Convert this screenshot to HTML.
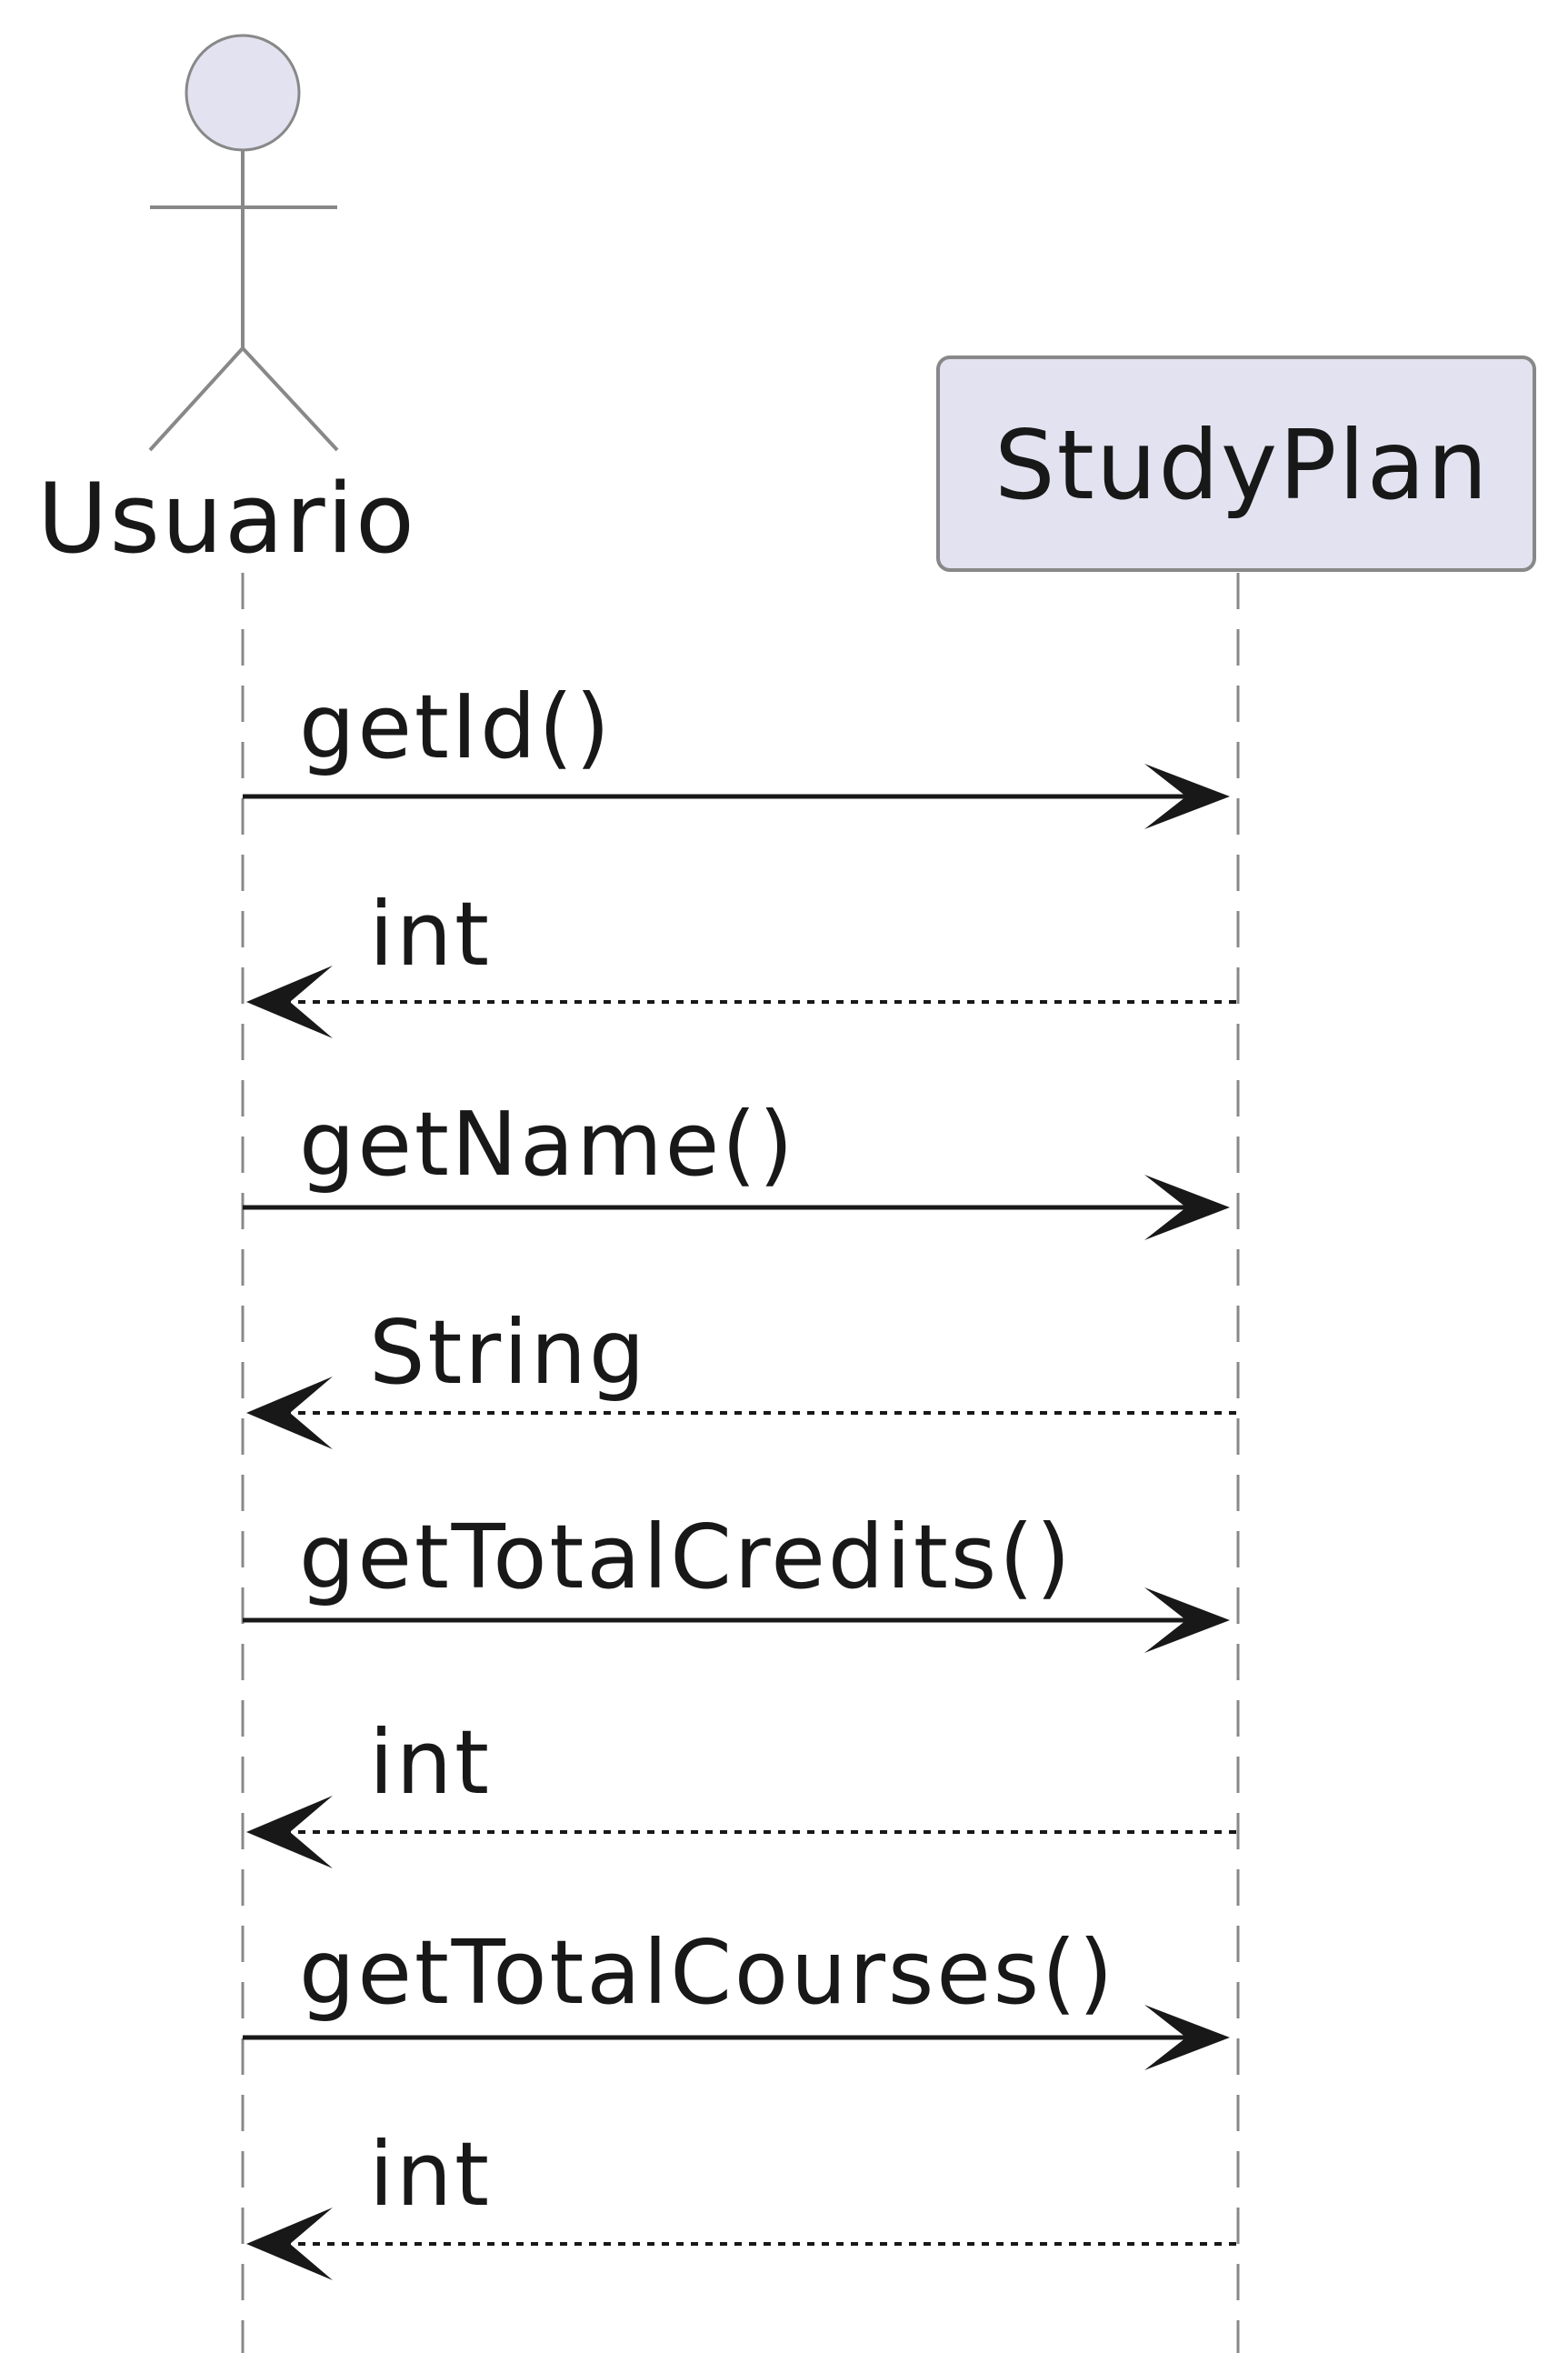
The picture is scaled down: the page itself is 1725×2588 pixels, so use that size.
<!DOCTYPE html>
<html><head><meta charset="utf-8"><style>
html,body{margin:0;padding:0;background:#fff;}
svg{display:block;}
text{font-family:"DejaVu Sans","Liberation Sans",sans-serif;fill:#181818;}
</style></head><body>
<svg width="1725" height="2588" viewBox="0 0 1725 2588" xmlns="http://www.w3.org/2000/svg">
<g stroke="#888" stroke-width="3" stroke-dasharray="40,22" fill="none">
<line x1="267" y1="630" x2="267" y2="2588"/>
<line x1="1362" y1="630" x2="1362" y2="2588"/>
</g>
<ellipse cx="267" cy="102" rx="62" ry="63" fill="#E2E2F0" stroke="#888" stroke-width="3"/>
<g stroke="#888" stroke-width="4" fill="none">
<line x1="267" y1="165" x2="267" y2="383"/>
<line x1="165" y1="228" x2="371" y2="228"/>
<line x1="267" y1="383" x2="165" y2="495"/>
<line x1="267" y1="383" x2="371" y2="495"/>
</g>
<text x="41" y="607" font-size="106" letter-spacing="2">Usuario</text>
<rect x="1032" y="393" width="656" height="234" rx="13" ry="13" fill="#E2E2F0" stroke="#888" stroke-width="4"/>
<text x="1094" y="548" font-size="105" letter-spacing="2">StudyPlan</text>

<g font-size="97" letter-spacing="2.8">
<text x="329" y="833">getId()</text>
<text x="406" y="1061">int</text>
<text x="329" y="1292">getName()</text>
<text x="406" y="1521">String</text>
<text x="329" y="1746">getTotalCredits()</text>
<text x="406" y="1972">int</text>
<text x="329" y="2203">getTotalCourses()</text>
<text x="406" y="2425">int</text>
</g>

<g stroke="#181818" stroke-width="5">
<line x1="267" y1="876" x2="1345" y2="876"/>
<line x1="267" y1="1328" x2="1345" y2="1328"/>
<line x1="267" y1="1782" x2="1345" y2="1782"/>
<line x1="267" y1="2241" x2="1345" y2="2241"/>
</g>
<g stroke="#181818" stroke-width="4" stroke-dasharray="8,8">
<line x1="280" y1="1102" x2="1362" y2="1102"/>
<line x1="280" y1="1554" x2="1362" y2="1554"/>
<line x1="280" y1="2015" x2="1362" y2="2015"/>
<line x1="280" y1="2468" x2="1362" y2="2468"/>
</g>
<g fill="#181818">
<polygon points="1353,876 1259,840 1305,876 1259,912"/>
<polygon points="1353,1328 1259,1292 1305,1328 1259,1364"/>
<polygon points="1353,1782 1259,1746 1305,1782 1259,1818"/>
<polygon points="1353,2241 1259,2205 1305,2241 1259,2277"/>
<polygon points="271,1102 366,1062 319,1102 366,1142"/>
<polygon points="271,1554 366,1514 319,1554 366,1594"/>
<polygon points="271,2015 366,1975 319,2015 366,2055"/>
<polygon points="271,2468 366,2428 319,2468 366,2508"/>
</g>
</svg>
</body></html>
